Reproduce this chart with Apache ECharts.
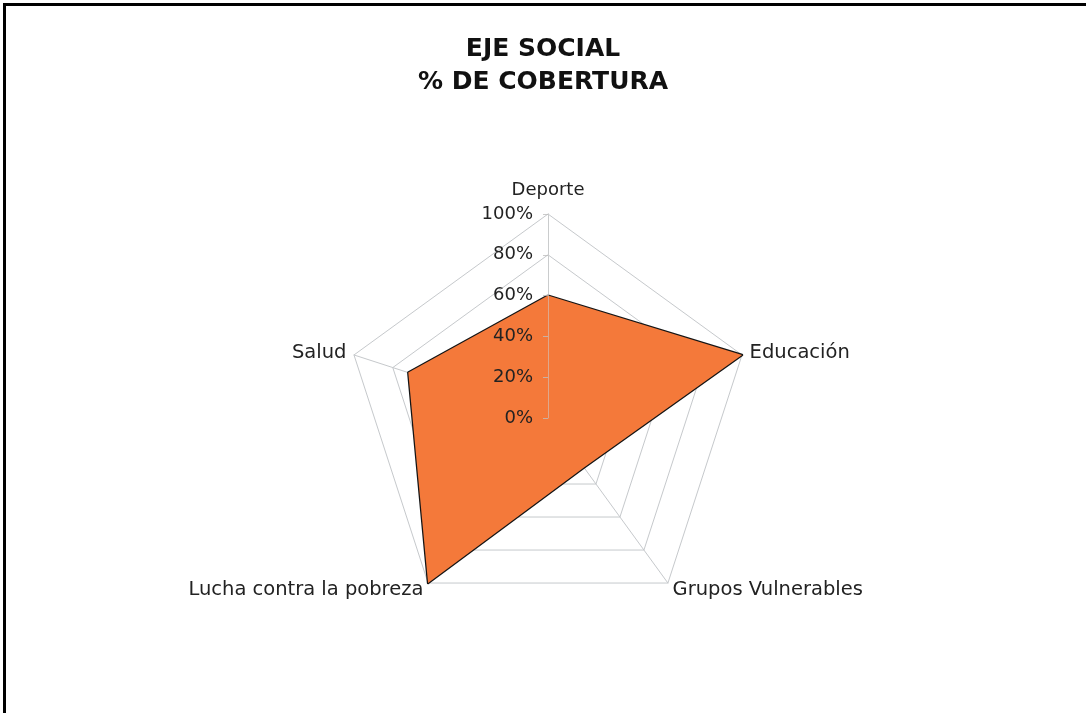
<!DOCTYPE html>
<html>
<head>
<meta charset="utf-8">
<script src="https://cdn.jsdelivr.net/npm/echarts@6/dist/echarts.min.js"></script>
<style>
  html, body { margin: 0; padding: 0; background: #fff; }
  #chart { position: absolute; left: 0; top: 0; width: 1086px; height: 713px; }
  #frame { position: absolute; left: 3px; top: 3px; width: 1100px; height: 720px;
           border-left: 3px solid #000; border-top: 3px solid #000; pointer-events: none; }
</style>
</head>
<body>
<div id="chart"></div>
<div id="frame"></div>
<script>
// Indicators in ECharts' default (counter-clockwise) order starting from top
const categories = ['Deporte', 'Salud', 'Lucha contra la pobreza', 'Grupos Vulnerables', 'Educación'];
const coverage = [60, 72, 100, 30, 100];
const tickValues = [0, 20, 40, 60, 80, 100];
const titleLines = ['EJE SOCIAL', '% DE COBERTURA'];

const FONT = 'DejaVu Sans';
const cx = 548, cy = 418, R = 204;

const chart = echarts.init(document.getElementById('chart'));
chart.setOption({
  backgroundColor: '#ffffff',
  animation: false,
  title: {
    text: titleLines.join('\n'),
    left: 'center',
    top: 28,
    textStyle: { fontFamily: FONT, fontWeight: 'bold', fontSize: 25, lineHeight: 33, color: '#111' }
  },
  radar: {
    center: [cx, cy],
    radius: R,
    splitNumber: 5,
    shape: 'polygon',
    nameGap: 8,
    indicator: categories.map(n => ({ name: n, min: 0, max: 100 })),
    axisName: {
      fontFamily: FONT, fontSize: 19.5, color: '#222',
      formatter: function (name) { return name === 'Deporte' ? '{top|' + name + '}' : name; },
      rich: { top: { fontFamily: FONT, fontSize: 18, color: '#222', padding: [0, 0, 7, 0] } }
    },
    axisLine: { lineStyle: { color: '#c6c9cc', width: 1 } },
    splitLine: { lineStyle: { color: '#c6c9cc', width: 1 } },
    splitArea: { show: false },
    axisTick: { show: false },
    axisLabel: { show: false }
  },
  grid: { left: cx, top: cy - R, width: 1, height: R, containLabel: false },
  xAxis: { type: 'value', show: false, min: 0, max: 1 },
  yAxis: {
    type: 'value',
    min: tickValues[0],
    max: tickValues[tickValues.length - 1],
    interval: tickValues[1] - tickValues[0],
    z: 10,
    axisLine: { show: true, lineStyle: { color: 'rgba(205,205,205,0.55)', width: 1 } },
    axisTick: { show: true, length: 5, lineStyle: { color: 'rgba(190,190,190,0.8)' } },
    splitLine: { show: false },
    axisLabel: { formatter: '{value}%', fontFamily: FONT, fontSize: 18, color: '#222', margin: 15 }
  },
  series: [{
    type: 'radar',
    z: 2,
    symbol: 'none',
    lineStyle: { color: '#151515', width: 2.5 },
    areaStyle: { color: '#F4793A', opacity: 1 },
    data: [{ value: coverage, name: '% de cobertura' }]
  }]
});
</script>
</body>
</html>
